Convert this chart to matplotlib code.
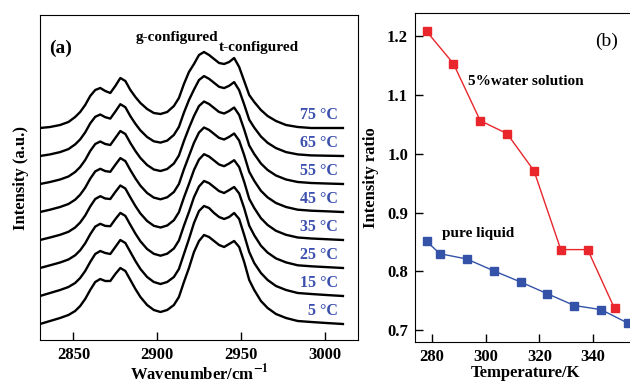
import numpy as np
import matplotlib
matplotlib.use("Agg")
import matplotlib.pyplot as plt

plt.rcParams['font.family'] = ['Liberation Serif', 'DejaVu Serif']
plt.rcParams['font.weight'] = 'bold'
plt.rcParams['axes.labelweight'] = 'bold'
plt.rcParams['mathtext.fontset'] = 'stix'

# ---- panel (a): spectra, bottom (5 C) to top (75 C), intensity in a.u.
wavenumber = [2830, 2836, 2842, 2847, 2851, 2854, 2857, 2860, 2863, 2866, 2869, 2872,
              2875, 2878, 2881, 2884, 2887, 2890, 2894, 2898, 2902, 2906, 2910, 2913,
              2916, 2919, 2922, 2925, 2928, 2931, 2934, 2937, 2940, 2943, 2946, 2949,
              2952, 2955, 2958, 2962, 2966, 2971, 2977, 2984, 2992, 3001, 3011]

spec_5 = [0, 3, 6, 9, 13, 18, 25, 34, 42, 45, 43, 43, 50, 56, 53, 44, 35, 27, 19, 14, 12, 14, 19, 27,
          42, 56, 72, 83, 89, 87, 83, 79, 77, 80, 83, 77, 62, 44, 34, 23, 16, 10, 6, 3, 2, 1, 0]
spec_15 = [0, 3, 6, 9, 13, 18, 25, 34, 42, 45, 43, 42, 49, 56, 53, 44, 35, 27, 19, 14, 12, 14, 19, 27,
           42, 57, 73, 85, 90, 88, 83, 79, 77, 79, 83, 77, 61, 44, 33, 23, 16, 10, 6, 3, 2, 1, 0]
spec_25 = [0, 2.7, 5.5, 8.5, 12.7, 17.7, 24.7, 33.7, 41.4, 44.2, 42.1, 41.8, 48.8, 55.1, 52.1, 43.1,
           34.4, 26.7, 19, 14.2, 12.3, 14.3, 19.5, 27.5, 42.3, 56, 70.8, 81.5, 87, 84.9, 80.9, 76.9,
           75, 77.9, 81, 74.6, 59.8, 42.4, 32.8, 22.3, 15.4, 9.6, 5.6, 2.7, 1.7, 0.9, 0]
spec_35 = [0, 2.5, 5.2, 8.2, 12.5, 17.5, 24.5, 33.5, 41, 43.8, 41.5, 41, 48, 54.5, 51.5, 42.5,
           34, 26.5, 19, 14.2, 12.5, 14.5, 19.8, 27.8, 42.5, 56, 70, 80.5, 85.8, 83.5, 79.5, 75.5,
           73.8, 76.5, 79.8, 73, 58.2, 41.2, 32, 21.8, 15, 9.2, 5.2, 2.5, 1.5, 0.8, 0]
spec_45 = [0, 2.3, 5, 8, 12.3, 17.3, 24.3, 33.3, 40.6, 43.2, 40.9, 40.2, 47.2, 53.9, 50.9, 41.9,
           33.6, 26.3, 19, 14.4, 12.7, 14.7, 20, 28, 42.7, 56, 69.2, 79.5, 84.5, 82.1, 78.1, 74.1,
           72.5, 75.1, 78.5, 71.4, 56.8, 40.2, 31.2, 21.2, 14.6, 9, 5, 2.3, 1.3, 0.7, 0]
spec_55 = [0, 2, 4.5, 7.5, 12, 17, 24, 33, 40, 42.5, 40, 39, 46, 53, 50, 41,
           33, 26, 19, 14.5, 13, 15, 20.5, 28.5, 43, 56, 68, 78, 82.5, 80, 76, 72,
           70.5, 73, 76.5, 69, 54.5, 38.5, 30, 20.5, 14, 8.5, 4.5, 2, 1, 0.5, 0]
spec_65 = [0, 1.6, 3.9, 6.9, 11.6, 16.6, 23.6, 32.6, 39.2, 41.5, 38.8, 37.4, 44.4, 51.8, 48.8, 39.8,
           32.2, 25.6, 19, 14.7, 13.4, 15.4, 21.1, 29.1, 43.4, 56, 66.4, 76, 79.9, 77.2, 73.2, 69.2,
           67.9, 70.2, 73.9, 65.8, 51.5, 36.3, 28.4, 19.5, 13.2, 7.9, 3.9, 1.6, 0.6, 0.3, 0]
spec_75 = [0, 1, 3, 6, 11, 16, 23, 32, 38, 40, 37, 35, 42, 50, 47, 38, 31, 25, 19, 15, 14, 16, 22, 30,
           44, 56, 64, 73, 76, 73, 69, 65, 64, 66, 70, 61, 47, 33, 26, 18, 12, 7, 3, 1, 0, 0, 0]

spectra = [spec_5, spec_15, spec_25, spec_35, spec_45, spec_55, spec_65, spec_75]
temp_labels = ['5 °C', '15 °C', '25 °C', '35 °C', '45 °C', '55 °C', '65 °C', '75 °C']
offset_step = 28

# ---- panel (b): intensity ratio vs temperature
temp_water = [278, 288, 298, 308, 318, 328, 338, 348]
ratio_water = [1.208, 1.153, 1.056, 1.034, 0.971, 0.837, 0.837, 0.737]
temp_pure = [278, 283, 293, 303, 313, 323, 333, 343, 353]
ratio_pure = [0.851, 0.830, 0.821, 0.801, 0.782, 0.762, 0.742, 0.735, 0.712]

label_blue = '#3b4fae'
red = '#e8262c'
blue = '#3352a8'

fig = plt.figure(figsize=(6.3, 3.84), dpi=100)
ax1 = fig.add_axes([40/630, 44/384, 318/630, 325/384])
ax2 = fig.add_axes([415/630, 42/384, 221/630, 329/384])

for i, s in enumerate(spectra):
    off = i * offset_step
    ax1.plot(wavenumber, np.array(s) + off, color='black', lw=1.7,
             solid_joinstyle='round')
    ax1.text(3008, off + 13, temp_labels[i], color=label_blue, fontsize=11.5,
             ha='right', va='center')

ax1.set_xlim(2830, 3020)
ax1.set_ylim(-16, 309)
ax1.set_xticks([2850, 2900, 2950, 3000])
ax1.set_yticks([])
ax1.tick_params(axis='x', direction='in', length=6, width=1, labelsize=12, pad=5)
ax1.set_xlabel('Wavenumber/cm$^{\\mathbf{-1}}$', fontsize=12, labelpad=0)
ax1.set_ylabel('Intensity (a.u.)', fontsize=12, labelpad=8)
ax1.text(2842, 276, '(a)', fontsize=14, ha='center', va='center')
ax1.text(2912, 286, 'g-configured', fontsize=11, ha='center', va='center')
ax1.text(2961, 276, 't-configured', fontsize=11, ha='center', va='center')

ax2.plot(temp_water, ratio_water, color=red, lw=1, marker='s', ms=5.5,
         mfc=red, mec=red, clip_on=False)
ax2.plot(temp_pure, ratio_pure, color=blue, lw=1, marker='s', ms=5.5,
         mfc=blue, mec=blue, clip_on=False)
ax2.set_xlim(273.7, 356)
ax2.set_ylim(0.68, 1.239)
ax2.set_xticks([280, 300, 320, 340])
ax2.set_yticks([0.7, 0.8, 0.9, 1.0, 1.1, 1.2])
ax2.tick_params(direction='in', length=6, width=1, labelsize=12, pad=5)
ax2.set_xlabel('Temperature/K', fontsize=12, labelpad=0)
ax2.set_ylabel('Intensity ratio', fontsize=12, labelpad=6)
ax2.text(345, 1.19, '(b)', fontsize=14, fontweight='normal', ha='center', va='center')
ax2.text(293.4, 1.122, '5%water solution', fontsize=11, va='center')
ax2.text(283.7, 0.865, 'pure liquid', fontsize=11, va='center')

fig.savefig('out.png', dpi=100)
